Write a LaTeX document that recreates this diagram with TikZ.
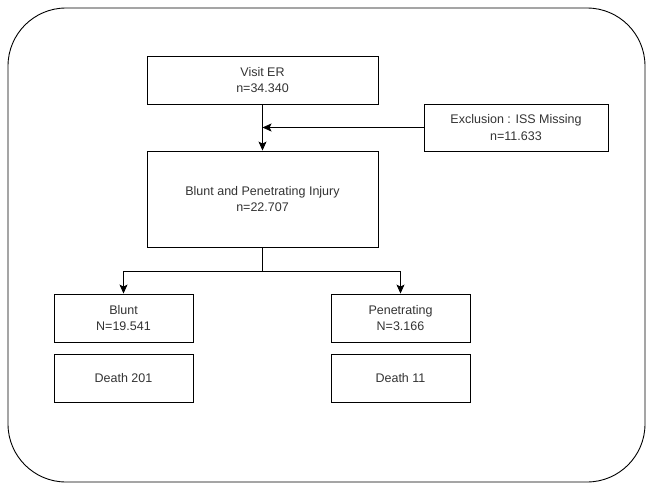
\documentclass[tikz,border=0pt]{standalone}
\usepackage{fontspec}
\setmainfont{Liberation Sans}
\usetikzlibrary{arrows.meta}
\definecolor{txt}{HTML}{333333}
\begin{document}
\begin{tikzpicture}[x=1pt,y=-1pt,
  box/.style={draw=black, line width=0.9pt, minimum width=#1, align=center, inner sep=0pt, text=txt,
    font=\fontsize{12.5}{16.5}\selectfont},
  arr/.style={line width=0.9pt, -{Stealth[length=9pt,width=8pt,inset=2pt]}},
  ln/.style={line width=0.9pt}]
\useasboundingbox (0,0) rectangle (649,485);
\node[draw=black, line width=0.9pt, rounded corners=58pt, minimum width=637pt, minimum height=474pt, inner sep=0pt] (frame) at (326.5,245) {};
\node[box=231pt, minimum height=48pt] (visit) at (262.5,80) {Visit ER\\n=34.340};
\node[box=184pt, minimum height=47pt] (excl) at (516,127.5) {Exclusion : ISS Missing\\n=11.633};
\node[box=231pt, minimum height=96pt] (main) at (262.5,199) {Blunt and Penetrating Injury\\n=22.707};
\node[box=139pt, minimum height=48pt] (blunt) at (123.5,318) {Blunt\\N=19.541};
\node[box=139pt, minimum height=48pt] (pen) at (400.5,318) {Penetrating\\N=3.166};
\node[box=139pt, minimum height=48pt] (d1) at (123.5,378) {Death 201};
\node[box=139pt, minimum height=48pt] (d2) at (400.5,378) {Death 11};
\draw[arr] (visit.south) -- (main.north);
\draw[arr] (excl.west) -- (excl.west -| visit.south);
\coordinate (split) at (262.5,271);
\draw[ln] (main.south) -- (split);
\draw[arr] (split) -| (blunt.north);
\draw[arr] (split) -| (pen.north);
\end{tikzpicture}
\end{document}
